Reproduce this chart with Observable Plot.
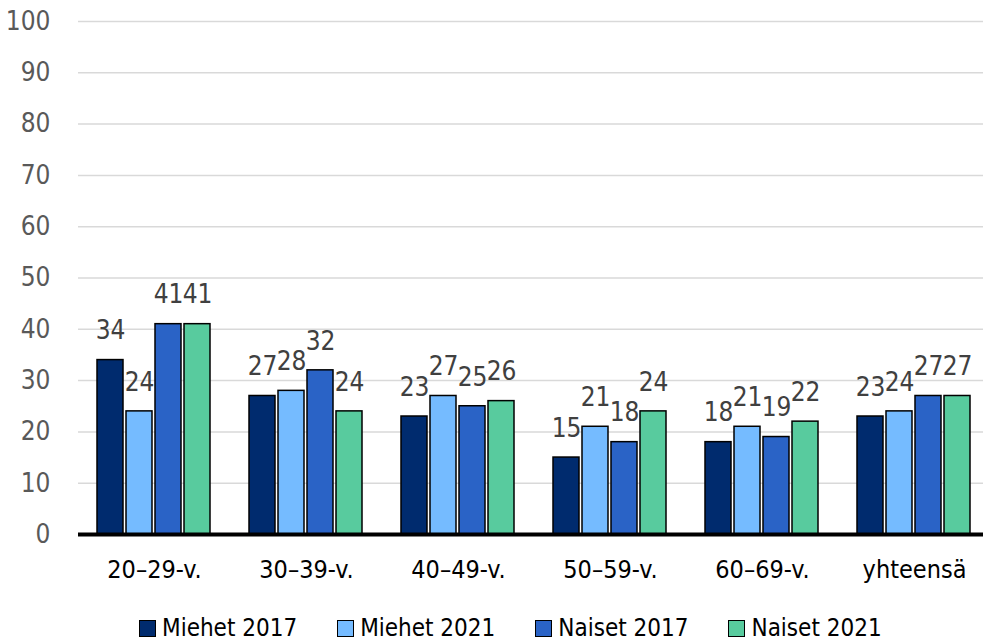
<!DOCTYPE html>
<html>
<head>
<meta charset="utf-8">
<script src="https://cdn.jsdelivr.net/npm/d3@7"></script>
<script src="https://cdn.jsdelivr.net/npm/@observablehq/plot@0.6"></script>
<style>
  html, body { margin: 0; padding: 0; background: #fff; }
  body { width: 983px; height: 643px; overflow: hidden; font-family: "DejaVu Sans Condensed", "Liberation Sans Narrow", sans-serif; }
  #chart svg { overflow: hidden; }
  #legend { display: flex; justify-content: flex-start; gap: 40px; margin-top: 8px; padding-left: 139px; font-size: 24px; color: #000; line-height: 30px; }
  .item { display: flex; align-items: center; }
  .sw { width: 17px; height: 17px; border: 1.5px solid #000; margin-right: 6px; box-sizing: border-box; }
</style>
</head>
<body>
<div id="chart"></div>
<div id="legend"></div>
<script>
const categories = ["20–29-v.", "30–39-v.", "40–49-v.", "50–59-v.", "60–69-v.", "yhteensä"];
const seriesNames = ["Miehet 2017", "Miehet 2021", "Naiset 2017", "Naiset 2021"];
const colors = ["#002b6e", "#75bbff", "#2a63c6", "#58cb9e"];
const miehet2017 = [34, 27, 23, 15, 18, 23];
const miehet2021 = [24, 28, 27, 21, 21, 24];
const naiset2017 = [41, 32, 25, 18, 19, 27];
const naiset2021 = [41, 24, 26, 24, 22, 27];
const yTicks = [0, 10, 20, 30, 40, 50, 60, 70, 80, 90, 100];

const seriesValues = [miehet2017, miehet2021, naiset2017, naiset2021];
const data = [];
categories.forEach((c, i) => {
  seriesNames.forEach((s, j) => data.push({cat: c, series: s, value: seriesValues[j][i]}));
});

const font = '"DejaVu Sans Condensed", "Liberation Sans Narrow", sans-serif';

const chart = Plot.plot({
  width: 983,
  height: 605,
  marginTop: 21,
  marginBottom: 71,
  marginLeft: 77,
  marginRight: -8,
  style: {fontFamily: font, background: "#fff", overflow: "hidden"},
  fx: {domain: categories, padding: 0, label: null},
  x: {domain: seriesNames, paddingInner: 0.1, paddingOuter: 0.62, axis: null},
  y: {domain: [0, 100], axis: null},
  color: {domain: seriesNames, range: colors},
  marks: [
    Plot.ruleY(yTicks.filter(d => d > 0), {stroke: "#d9d9d9", strokeWidth: 1.5}),
    Plot.axisY({ticks: yTicks, tickSize: 0, tickPadding: 0, dx: -28, textAnchor: "end", fontSize: 26, fill: "#595959", label: null}),
    Plot.axisFx({anchor: "bottom", tickSize: 0, tickPadding: 26, fontSize: 25, fill: "#000", label: null}),
    Plot.barY(data, {fx: "cat", x: "series", y: "value", fill: "series", stroke: "#000", strokeWidth: 1.5}),
    Plot.text(data, {fx: "cat", x: "series", y: "value", text: d => String(d.value), dy: -29, fontSize: 26, fill: "#404040"}),
    Plot.ruleY([0], {stroke: "#000", strokeWidth: 4})
  ]
});
document.getElementById("chart").appendChild(chart);

const legend = document.getElementById("legend");
seriesNames.forEach((s, i) => {
  const item = document.createElement("div");
  item.className = "item";
  const sw = document.createElement("div");
  sw.className = "sw";
  sw.style.background = colors[i];
  const t = document.createElement("span");
  t.textContent = s;
  item.appendChild(sw);
  item.appendChild(t);
  legend.appendChild(item);
});
</script>
</body>
</html>
